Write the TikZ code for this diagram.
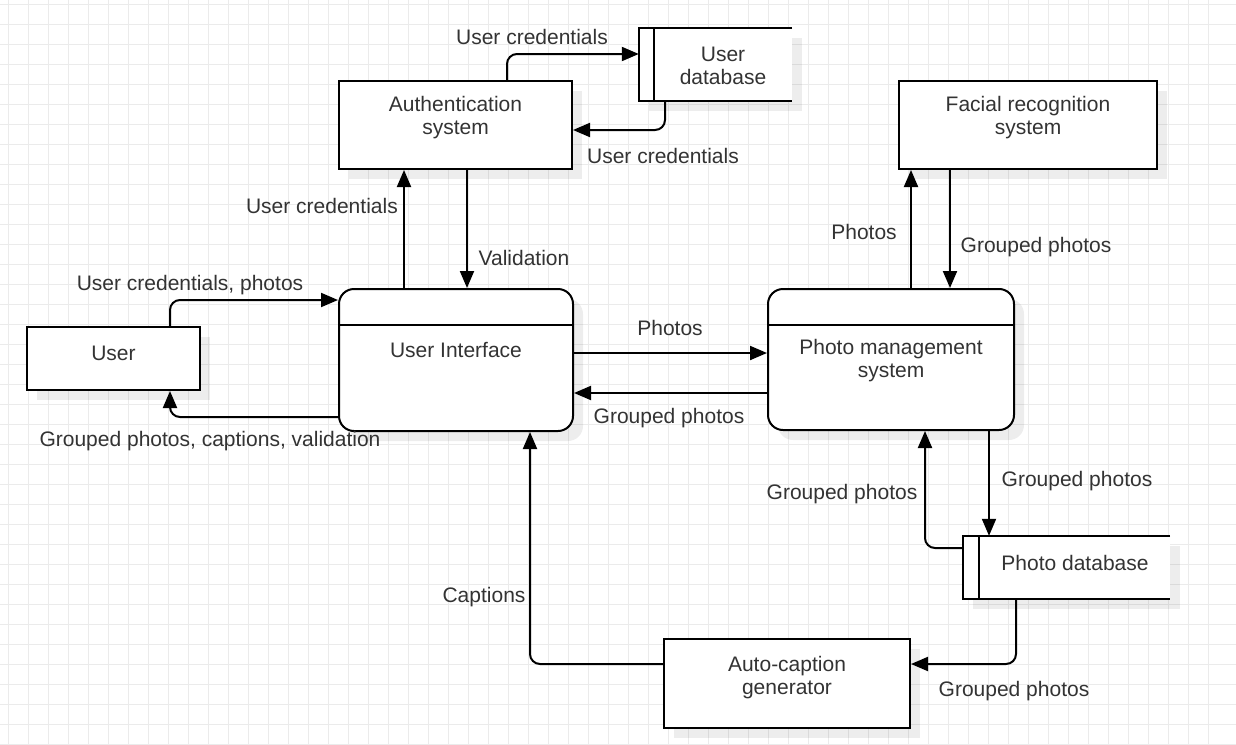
\documentclass[tikz,border=0pt]{standalone}
\usepackage{fontspec}
\setmainfont{Liberation Sans}
\usetikzlibrary{arrows.meta,shadows,calc}

\definecolor{txtgray}{HTML}{333333}
\definecolor{gridgray}{HTML}{EBEBEB}

\begin{document}
\begin{tikzpicture}[x=1pt, y=-1pt,
    every node/.style={font=\fontsize{21}{23}\selectfont, text=txtgray},
    softshadow/.style={drop shadow={shadow xshift=10pt, shadow yshift=-10pt, fill=black, opacity=0.07}},
    box/.style={draw=black, line width=2pt, fill=white, inner sep=0pt, softshadow},
    proc/.style={box, rounded corners=15pt},
    store/.style={fill=white, inner sep=0pt, softshadow},
    edge/.style={line width=2pt, line join=miter},
    flow/.style={line width=2pt, rounded corners=10pt, -{Triangle[length=17pt,width=14pt]}},
    lbl/.style={inner sep=0pt, text height=15pt, text depth=4.5pt, yshift=-2pt}]
    \useasboundingbox (0,0) rectangle (1236,744);
    \fill[white] (0,0) rectangle (1236,744);
    % grid
    \foreach \gx in {8,28,...,1208}
        \draw[gridgray, line width=1pt] (\gx,0) -- (\gx,744);
    \foreach \gy in {4,24,...,744}
        \draw[gridgray, line width=1pt] (0,\gy) -- (1236,\gy);

    % processes and externals
    \node[box, minimum width=233pt, minimum height=88pt] (auth) at (455.5,125) {};
    \node[align=center] (auth-txt) at ([yshift=7pt]auth.center) {Authentication\\system};
    \node[box, minimum width=258pt, minimum height=88pt] (face) at (1028,125) {};
    \node[align=center] (face-txt) at ([yshift=7pt]face.center) {Facial recognition\\system};
    \node[box, minimum width=173pt, minimum height=63pt] (user) at (113.5,358.5) {};
    \node (user-txt) at ([yshift=5.5pt]user.center) {User};
    \node[proc, minimum width=234pt, minimum height=142pt] (ui) at (456,360) {};
    \draw[edge] ([yshift=-37pt]ui.north west) -- ([yshift=-37pt]ui.north east);
    \node (ui-txt) at ([yshift=10.5pt]ui.center) {User Interface};
    \node[proc, minimum width=246pt, minimum height=141pt] (pms) at (891,359.5) {};
    \draw[edge] ([yshift=-37pt]pms.north west) -- ([yshift=-37pt]pms.north east);
    \node[align=center] (pms-txt) at ([yshift=-1.5pt]pms.center) {Photo management\\system};
    \node[box, minimum width=246pt, minimum height=89pt] (cap) at (787,683.5) {};
    \node[align=center] (cap-txt) at ([yshift=5.5pt]cap.center) {Auto-caption\\generator};

    % data stores
    \node[store, minimum width=153pt, minimum height=73pt] (udb) at (715.5,64.5) {};
    \draw[edge] (udb.north east) -- (udb.north west) -- (udb.south west) -- (udb.south east);
    \draw[edge] ([xshift=15pt]udb.north west) -- ([xshift=15pt]udb.south west);
    \node[align=center] (udb-txt) at (723,65.5) {User\\database};
    \node[store, minimum width=207pt, minimum height=63pt] (pdb) at (1066.5,567.5) {};
    \draw[edge] (pdb.north east) -- (pdb.north west) -- (pdb.south west) -- (pdb.south east);
    \draw[edge] ([xshift=16pt]pdb.north west) -- ([xshift=16pt]pdb.south west);
    \node (pdb-txt) at (1075,562.5) {Photo database};

    % flows
    \draw[flow] ([xshift=51.5pt]auth.north) |- ([yshift=10.5pt]udb.west);
    \draw[flow] ([xshift=-50.5pt]udb.south) |- ([yshift=-5pt]auth.east);
    \draw[flow] ([xshift=-52pt]ui.north) -- ([xshift=-52pt]ui.north |- auth.south);
    \draw[flow] ([xshift=11.5pt]auth.south) -- ([xshift=11.5pt]auth.south |- ui.north);
    \draw[flow] ([xshift=56.5pt]user.north) |- ([yshift=60pt]ui.west);
    \draw[flow] ([yshift=-57pt]ui.west) -| ([xshift=56.5pt]user.south);
    \draw[flow] ([yshift=7pt]ui.east) -- ([yshift=7pt]ui.east -| pms.west);
    \draw[flow] ([yshift=-33.5pt]pms.west) -- ([yshift=-33.5pt]pms.west -| ui.east);
    \draw[flow] ([xshift=20pt]pms.north) -- ([xshift=20pt]pms.north |- face.south);
    \draw[flow] ([xshift=-78pt]face.south) -- ([xshift=-78pt]face.south |- pms.north);
    \draw[flow] ([xshift=98pt]pms.south) -- ([xshift=98pt]pms.south |- pdb.north);
    \draw[flow] ([yshift=19.5pt]pdb.west) -| ([xshift=34pt]pms.south);
    \draw[flow] ([xshift=-50.5pt]pdb.south) |- ([yshift=19.5pt]cap.east);
    \draw[flow] ([yshift=19.5pt]cap.west) -| ([xshift=74pt]ui.south);

    % flow labels
    \node[lbl] (l-ad) at (532,37) {User credentials};
    \node[lbl] (l-da) at (663,156) {User credentials};
    \node[lbl, anchor=east] (l-ua) at (398,206) {User credentials};
    \node[lbl] (l-au) at (524,258) {Validation};
    \node[lbl] (l-ui) at (190,283) {User credentials, photos};
    \node[lbl] (l-iu) at (210,439) {Grouped photos, captions, validation};
    \node[lbl] (l-ip) at (670,328) {Photos};
    \node[lbl] (l-pi) at (669,416) {Grouped photos};
    \node[lbl] (l-pf) at (864,232) {Photos};
    \node[lbl] (l-fp) at (1036,245) {Grouped photos};
    \node[lbl] (l-pd) at (1077,479) {Grouped photos};
    \node[lbl] (l-dp) at (842,492) {Grouped photos};
    \node[lbl] (l-dc) at (1014,689) {Grouped photos};
    \node[lbl] (l-ci) at (484,595) {Captions};
\end{tikzpicture}
\end{document}
